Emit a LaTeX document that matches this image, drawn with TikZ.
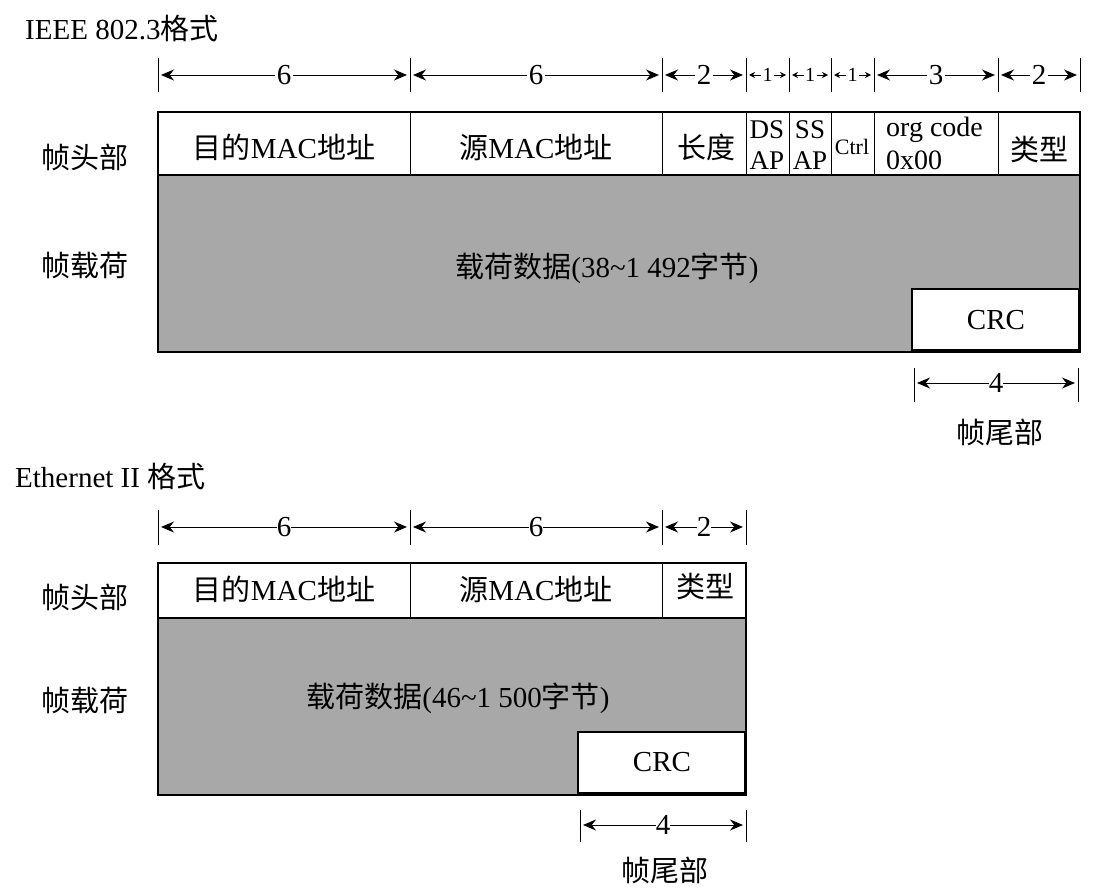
\documentclass[tikz,border=0pt]{standalone}
\usepackage{fontspec}
\setmainfont{Liberation Serif}
\newfontfamily\cjk{Noto Sans CJK SC}
\usetikzlibrary{arrows.meta}
\begin{document}
\begin{tikzpicture}[x=1pt,y=-1pt,
  txt/.style={font=\fontsize{29}{32}\selectfont,inner sep=0pt},
  sml/.style={font=\fontsize{21}{22}\selectfont,inner sep=0pt},
  box/.style={draw,line width=1.2pt},
  dimarr/.style={{Stealth[length=13pt,width=11pt]}-{Stealth[length=13pt,width=11pt]},line width=1pt},
  sdim/.style={{Stealth[length=6pt,width=6pt]}-{Stealth[length=6pt,width=6pt]},line width=0.8pt},
  tick/.style={line width=1pt}]
\useasboundingbox (0,0) rectangle (1101,894);
\definecolor{gr}{HTML}{A8A8A8}
% ---------- IEEE 802.3
\node[txt,anchor=west] (t1) at (25,28) {IEEE 802.3{\cjk 格式}};
\foreach \x in {158,410,662,746,789,831,874,998,1080}{\draw[tick] (\x,58) -- (\x,92);}
\foreach \a/\b/\l/\s in {158/410/6/dimarr,410/662/6/dimarr,662/746/2/dimarr,746/789/1/sdim,789/831/1/sdim,831/874/1/sdim,874/998/3/dimarr,998/1080/2/dimarr}{
  \coordinate (da) at (\a+3,75); \coordinate (db) at (\b-3,75);
  \draw[\s] (da) -- (db) node[midway,fill=white,inner sep=1.5pt,font=\fontsize{\ifnum\l=1 20\else 29\fi}{30}\selectfont] {\l};}
\fill[gr] (158,175) rectangle (1080,352);
\draw[box] (158,112) rectangle (1080,352);
\draw[box] (158,175) -- (1080,175);
\foreach \x in {410,662,746,789,831,874,998}{\draw[line width=1pt] (\x,112) -- (\x,175);}
\node[txt] (h1) at (284,147) {{\cjk 目的}MAC{\cjk 地址}};
\node[txt] (h2) at (536,147) {{\cjk 源}MAC{\cjk 地址}};
\node[txt] (h3) at (706,147) {{\cjk 长度}};
\node[sml,align=center,font=\fontsize{27}{31}\selectfont] (h4) at (767,145) {DS\\AP};
\node[sml,align=center,font=\fontsize{27}{31}\selectfont] (h5) at (810,145) {SS\\AP};
\node[sml,font=\fontsize{22}{22}\selectfont] (h6) at (852,147) {Ctrl};
\node[txt,align=left,anchor=west,font=\fontsize{28}{33}\selectfont] (h7) at (886,143) {org code\\0x00};
\node[txt] (h8) at (1039,149) {{\cjk 类型}};
\node[txt] (l1) at (85,157) {{\cjk 帧头部}};
\node[txt] (l2) at (85,265) {{\cjk 帧载荷}};
\node[txt] (p1) at (607,268) {{\cjk 载荷数据}(38\textasciitilde 1 492{\cjk 字节})};
\draw[line width=2.5pt,fill=white] (912,289) rectangle (1079,350);
\node[txt] (c1) at (996,320) {CRC};
\draw[tick] (914,368) -- (914,402); \draw[tick] (1078,368) -- (1078,402);
\coordinate (e1) at (917,383); \coordinate (e2) at (1075,383);
\draw[dimarr] (e1) -- (e2) node[midway,fill=white,inner sep=1.5pt,txt] {4};
\node[txt] (f1) at (1000,432) {{\cjk 帧尾部}};
% ---------- Ethernet II
\node[txt,anchor=west] (t2) at (15,476) {Ethernet II {\cjk 格式}};
\foreach \x in {158,410,662,746}{\draw[tick] (\x,510) -- (\x,545);}
\foreach \a/\b/\l in {158/410/6,410/662/6,662/746/2}{
  \coordinate (da) at (\a+3,527); \coordinate (db) at (\b-3,527);
  \draw[dimarr] (da) -- (db) node[midway,fill=white,inner sep=1.5pt,txt] {\l};}
\fill[gr] (158,618) rectangle (746,795);
\draw[box] (158,563) rectangle (746,795);
\draw[box] (158,618) -- (746,618);
\foreach \x in {410,662}{\draw[line width=1pt] (\x,563) -- (\x,618);}
\node[txt] (g1) at (284,589) {{\cjk 目的}MAC{\cjk 地址}};
\node[txt] (g2) at (536,589) {{\cjk 源}MAC{\cjk 地址}};
\node[txt] (g3) at (705,586) {{\cjk 类型}};
\node[txt] (m1) at (85,597) {{\cjk 帧头部}};
\node[txt] (m2) at (85,700) {{\cjk 帧载荷}};
\node[txt] (p2) at (458,698) {{\cjk 载荷数据}(46\textasciitilde 1 500{\cjk 字节})};
\draw[line width=2.5pt,fill=white] (578,732) rectangle (745,793);
\node[txt] (c2) at (662,762) {CRC};
\draw[tick] (580,810) -- (580,842); \draw[tick] (746,810) -- (746,842);
\coordinate (k1) at (583,825); \coordinate (k2) at (743,825);
\draw[dimarr] (k1) -- (k2) node[midway,fill=white,inner sep=1.5pt,txt] {4};
\node[txt] (f2) at (665,870) {{\cjk 帧尾部}};
\end{tikzpicture}
\end{document}
